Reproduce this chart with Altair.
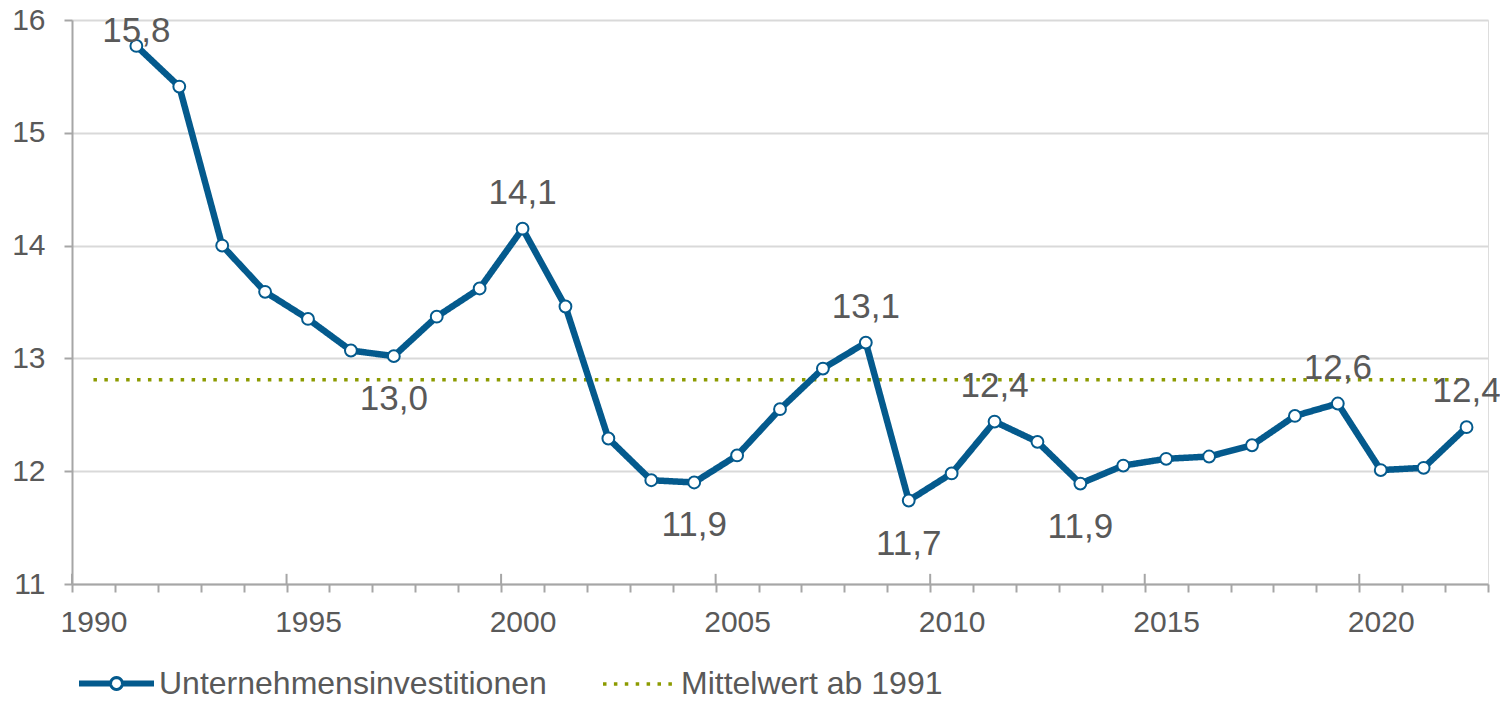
import math
import altair as alt
import pandas as pd

# ---- data ----
jahre = list(range(1991, 2023))
werte = [15.77, 15.41, 14.00, 13.59, 13.35, 13.07, 13.02, 13.37, 13.62, 14.15,
         13.46, 12.29, 11.92, 11.90, 12.14, 12.55, 12.91, 13.14, 11.74, 11.98,
         12.44, 12.26, 11.89, 12.05, 12.11, 12.13, 12.23, 12.49, 12.60, 12.01,
         12.03, 12.39]
label_jahre = [1991, 1997, 2000, 2004, 2008, 2009, 2011, 2013, 2019, 2022]
label_texte = ["15,8", "13,0", "14,1", "11,9", "13,1", "11,7", "12,4", "11,9", "12,6", "12,4"]
label_lage = ["oben_knapp", "unten", "oben", "unten", "oben", "unten", "oben", "unten", "oben", "oben"]
mittelwert = 12.81
mittel_jahre = [1990, 2022]
major_jahre = [1990, 1995, 2000, 2005, 2010, 2015, 2020]
achsen_jahre = list(range(1990, 2024))
y_ticks = [11, 12, 13, 14, 15, 16]

S1 = "Unternehmensinvestitionen"
S2 = "Mittelwert ab 1991"
BLUE = "#045a8d"
OLIVE = "#8c9b00"
TXT = "#595959"
AX = "#a6a6a6"
GRID = "#d9d9d9"
FONT = "Liberation Sans"

df = pd.DataFrame({"jahr": jahre, "wert": werte, "serie": S1})
df["x"] = df["jahr"] + 0.5
df["punkt"] = S1
mean_df = pd.DataFrame({"x": [j + 0.5 for j in mittel_jahre],
                        "wert": [mittelwert] * len(mittel_jahre), "serie": S2})
lab_df = pd.DataFrame({"x": [j + 0.5 for j in label_jahre],
                       "wert": [werte[jahre.index(j)] for j in label_jahre],
                       "text": label_texte, "lage": label_lage})
major_df = pd.DataFrame({"jahr": major_jahre})

W, H = 1416, 564
xscale = alt.Scale(domain=[1990, 2023], nice=False, zero=False)
yscale = alt.Scale(domain=[11, 16], nice=False, zero=False)
half_year_px = W / (2023 - 1990) / 2

x_axis = alt.Axis(values=achsen_jahre, labelExpr="datum.value % 5 === 0 ? datum.value : ''",
                  tickSize=8, tickColor=AX, tickWidth=2, domainColor=AX, domainWidth=2,
                  grid=False, labelFontSize=30, labelColor=TXT, labelFont=FONT,
                  labelPadding=15, labelOffset=half_year_px, labelOverlap=False,
                  labelFlush=False, title=None)
y_axis = alt.Axis(values=y_ticks, format="d", tickSize=8, tickColor=AX, tickWidth=2,
                  domainColor=AX, domainWidth=2, grid=True, gridColor=GRID, gridWidth=2,
                  labelFontSize=30, labelColor=TXT, labelFont=FONT, labelPadding=19,
                  title=None)

X = alt.X("x:Q", scale=xscale, axis=x_axis)
Y = alt.Y("wert:Q", scale=yscale, axis=y_axis)

LEG_X, LEG_Y, LEG_SIZE = 7, 626, 5184

legend_lines = alt.Legend(
    title=None, orient="none", legendX=LEG_X, legendY=LEG_Y, direction="horizontal",
    columns=2, columnPadding=49, labelOffset=4, labelFontSize=32, labelColor=TXT,
    labelFont=FONT, labelLimit=0, symbolSize=LEG_SIZE, symbolType="stroke",
    symbolStrokeWidth=3.5, padding=0, zindex=0)

# legend marker for the blue series: thick line segments + small open circle (polygon)
r = 0.165
ring = " ".join(
    ("M" if k == 0 else "L") + " %.4f %.4f" % (r * math.cos(2 * math.pi * k / 24),
                                               r * math.sin(2 * math.pi * k / 24))
    for k in range(24)) + " Z"
path_s1 = ("M -1 -0.04 L -0.165 -0.04 L -0.165 0.04 L -1 0.04 Z "
           "M 0.165 -0.04 L 1 -0.04 L 1 0.04 L 0.165 0.04 Z " + ring)
legend_marker = alt.Legend(
    title=None, orient="none", legendX=LEG_X, legendY=LEG_Y, direction="horizontal",
    labelExpr="''", labelFontSize=32, labelOffset=4, labelLimit=0, symbolSize=LEG_SIZE,
    symbolType=path_s1, symbolStrokeWidth=3, symbolOpacity=1, padding=0, zindex=1)

color = alt.Color("serie:N", scale=alt.Scale(domain=[S1, S2], range=[BLUE, OLIVE]),
                  legend=legend_lines)
dash = alt.StrokeDash("serie:N", scale=alt.Scale(domain=[S1, S2], range=[[1, 0], [3.5, 7.4]]),
                      legend=legend_lines)

mean_line = alt.Chart(mean_df).mark_line(strokeWidth=3.5).encode(
    x=X, y=Y, color=color, strokeDash=dash)
main_line = alt.Chart(df).mark_line(strokeWidth=6.5, strokeJoin="round").encode(
    x=X, y=Y, color=color, strokeDash=dash)
points = alt.Chart(df).mark_point(filled=True, strokeWidth=2, size=140, opacity=1,
                                  shape="circle").encode(
    x=X, y=Y,
    fill=alt.Fill("punkt:N", scale=alt.Scale(domain=[S1], range=["white"]),
                  legend=legend_marker),
    stroke=alt.Stroke("punkt:N", scale=alt.Scale(domain=[S1], range=[BLUE]),
                      legend=legend_marker))
major_ticks = alt.Chart(major_df).mark_rule(color=AX, strokeWidth=2).encode(
    x=alt.X("jahr:Q", scale=xscale), y=alt.datum(11), y2=alt.datum(11.09))

def labels(lage, dy):
    return alt.Chart(lab_df).transform_filter(alt.datum.lage == lage).mark_text(
        fontSize=35, font=FONT, color=TXT, baseline="alphabetic", align="center", dy=dy
    ).encode(x=X, y=Y, text="text:N")

chart = alt.layer(
    major_ticks, mean_line, main_line, points,
    labels("oben", -25), labels("unten", 54), labels("oben_knapp", -4)
).properties(
    width=W, height=H,
    autosize=alt.AutoSizeParams(type="none"),
    padding={"left": 64, "top": 12, "right": 12, "bottom": 112},
).configure_view(stroke=None).configure(font=FONT)

chart.save("out.html", embed_options={"renderer": "svg", "actions": False})
